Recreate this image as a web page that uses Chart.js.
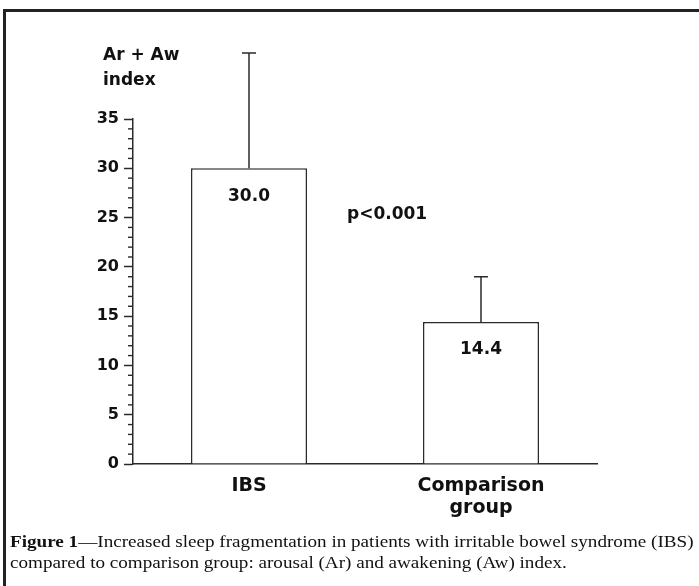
<!DOCTYPE html>
<html>
<head>
<meta charset="utf-8">
<script src="https://cdn.jsdelivr.net/npm/chart.js@4.4.0/dist/chart.umd.min.js"></script>
<style>
  body { margin: 0; background: #fff; }
  #wrap { position: relative; width: 699px; height: 586px; overflow: hidden; }
  #frame { position: absolute; left: 3px; top: 9px; right: 0; bottom: 0;
           border-top: 3px solid #222; border-left: 3px solid #222; }
  #chart { position: absolute; left: 0; top: 0; }
  /* the printed figure is a bit stretched sideways */
  #caption { position: absolute; left: 10px; top: 531px;
             font-family: "Liberation Serif", "Times New Roman", serif; font-size: 16px;
             line-height: 21px; color: #111; white-space: nowrap;
             transform: scaleX(1.195); transform-origin: left top; }
</style>
</head>
<body>
<div id="wrap">
  <div id="frame"></div>
  <canvas id="chart" width="699" height="586"></canvas>
  <div id="caption"><b>Figure 1</b>—Increased sleep fragmentation in patients with irritable bowel syndrome (IBS)<br>compared to comparison group: arousal (Ar) and awakening (Aw) index.</div>
</div>
<script>
// data
var groups = ["IBS", ["Comparison", "group"]];
var means = [30.0, 14.4];
var sd = [11.7, 4.6];
var valueLabels = ["30.0", "14.4"];
var yTitle = ["Ar + Aw", "index"];
var pText = "p<0.001";

var ink = "#2b2b2b";
var bold = "DejaVu Sans";

// error bars, minor ticks and text on the chart
var extras = {
    id: "extras",
    afterDatasetsDraw: function (chart) {
        var ctx = chart.ctx;
        var y = chart.scales.y;
        var meta = chart.getDatasetMeta(0);
        ctx.save();
        ctx.strokeStyle = ink;
        ctx.lineWidth = 1.5;
        meta.data.forEach(function (bar, i) {
            var top = y.getPixelForValue(means[i] + sd[i]);
            ctx.beginPath();
            ctx.moveTo(bar.x, bar.y);
            ctx.lineTo(bar.x, top);
            ctx.moveTo(bar.x - 7, top);
            ctx.lineTo(bar.x + 7, top);
            ctx.stroke();

            ctx.fillStyle = "#111";
            ctx.font = "bold 17px '" + bold + "'";
            ctx.textAlign = "center";
            ctx.textBaseline = "middle";
            ctx.fillText(valueLabels[i], bar.x, bar.y + 28);
        });

        // minor ticks every 1 unit
        var ax = chart.chartArea.left;
        ctx.lineWidth = 1.4;
        for (var v = 0; v <= 35; v++) {
            if (v % 5 === 0) continue;
            var py = y.getPixelForValue(v);
            ctx.beginPath();
            ctx.moveTo(ax - 5, py);
            ctx.lineTo(ax, py);
            ctx.stroke();
        }

        ctx.fillStyle = "#111";
        ctx.textAlign = "left";
        ctx.textBaseline = "alphabetic";
        ctx.font = "bold 17px '" + bold + "'";
        ctx.fillText(yTitle[0], 103, 60);
        ctx.fillText(yTitle[1], 103, 85);
        ctx.fillText(pText, 347, 219);
        ctx.restore();
    }
};

var ctx = document.getElementById("chart").getContext("2d");
var chart = new Chart(ctx, {
    type: "bar",
    data: {
        labels: groups,
        datasets: [{
            data: means,
            backgroundColor: "#ffffff",
            borderColor: ink,
            borderWidth: 1.5,
            barPercentage: 0.5,
            categoryPercentage: 1.0
        }]
    },
    options: {
        responsive: false,
        animation: false,
        layout: { padding: { left: 0, right: 102, top: 119, bottom: 0 } },
        plugins: {
            legend: { display: false },
            tooltip: { enabled: false }
        },
        scales: {
            x: {
                afterFit: function (s) { s.height = 122; },
                grid: { display: true, drawOnChartArea: false, drawTicks: false },
                border: { display: true, color: ink, width: 1.5 },
                ticks: {
                    color: "#111",
                    padding: 11,
                    font: { family: bold, size: 19, weight: "bold", lineHeight: 1.15 }
                }
            },
            y: {
                min: 0,
                max: 35,
                afterFit: function (s) { s.width = 133; },
                ticks: {
                    stepSize: 5,
                    color: "#111",
                    padding: 5,
                    font: { family: bold, size: 16, weight: "bold" }
                },
                grid: { drawOnChartArea: false, tickLength: 9, tickColor: ink, tickWidth: 1.5 },
                border: { display: true, color: ink, width: 1.5 }
            }
        }
    },
    plugins: [extras]
});
</script>
</body>
</html>
